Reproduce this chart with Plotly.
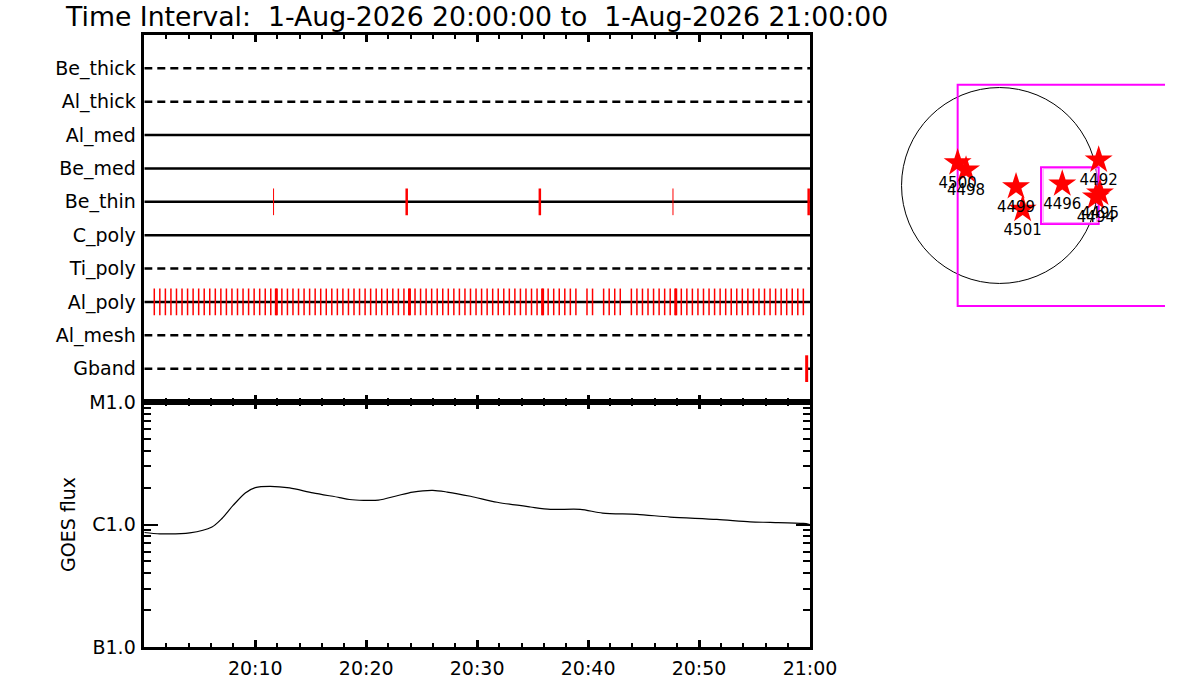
import plotly.graph_objects as go

# ---------------- data ----------------
title_text = "Time Interval:  1-Aug-2026 20:00:00 to  1-Aug-2026 21:00:00"

channels = ["Be_thick", "Al_thick", "Al_med", "Be_med", "Be_thin",
            "C_poly", "Ti_poly", "Al_poly", "Al_mesh", "Gband"]
channel_dashed = [True, True, False, False, False, False, True, False, True, True]

# exposure times (minutes after 20:00)
be_thin_thin = [11.65, 47.65]
be_thin_thick = [23.65, 35.65, 59.88]
al_poly_times = [
    0.9, 1.4, 1.9, 2.4, 2.9, 3.4, 3.9, 4.4, 4.9, 5.4,
    5.9, 6.4, 6.9, 7.4, 7.9, 8.4, 8.9, 9.4, 9.9, 10.4,
    10.9, 11.4, 11.9, 12.4, 12.9, 13.4, 13.9, 14.4, 14.9, 15.4,
    15.9, 16.4, 16.9, 17.4, 17.9, 18.4, 18.9, 19.4, 19.9, 20.4,
    20.9, 21.4, 21.9, 22.4, 22.9, 23.4, 23.9, 24.4, 24.9, 25.4,
    25.9, 26.4, 26.9, 27.4, 27.9, 28.4, 28.9, 29.4, 29.9, 30.4,
    30.9, 31.4, 31.9, 32.4, 32.9, 33.4, 33.9, 34.4, 34.9, 35.4,
    35.9, 36.4, 36.9, 37.4, 37.9, 38.4, 38.9, 39.9, 40.4,
    41.4, 41.9, 42.4, 42.9, 43.9, 44.4, 44.9, 45.4,
    45.9, 46.4, 46.9, 47.4, 47.9, 48.4, 48.9, 49.4, 49.9, 50.4,
    50.9, 51.4, 51.9, 52.4, 52.9, 53.4, 53.9, 54.4, 54.9, 55.4,
    55.9, 56.4, 56.9, 57.4, 57.9, 58.4, 58.9, 59.4]
al_poly_thick = [11.9, 23.9, 35.9, 47.9]
gband_times = [59.7]

time_tickvals = [10, 20, 30, 40, 50, 60]
time_ticktext = ["20:10", "20:20", "20:30", "20:40", "20:50", "21:00"]
time_minor = [2, 4, 6, 8, 12, 14, 16, 18, 22, 24, 26, 28,
              32, 34, 36, 38, 42, 44, 46, 48, 52, 54, 56, 58]

goes_t = [0.0, 1.4, 4.1, 6.1, 7.0, 8.0, 9.1, 10.0, 11.3, 13.1, 15.2, 17.6,
          18.5, 21.1, 22.7, 24.2, 26.0, 27.3, 29.4, 31.8, 34.8, 36.6, 39.3,
          41.3, 44.4, 47.4, 51.6, 54.6, 56.4, 59.4, 60.0]
goes_flux = [8.6e-7, 8.4e-7, 8.55e-7, 9.55e-7, 1.12e-6, 1.43e-6, 1.81e-6,
             2.0e-6, 2.05e-6, 1.99e-6, 1.81e-6, 1.66e-6, 1.60e-6, 1.58e-6,
             1.71e-6, 1.84e-6, 1.90e-6, 1.84e-6, 1.70e-6, 1.52e-6, 1.39e-6,
             1.33e-6, 1.33e-6, 1.24e-6, 1.21e-6, 1.15e-6, 1.10e-6, 1.05e-6,
             1.04e-6, 1.02e-6, 1.0e-6]
goes_tickvals = [1e-7, 1e-6, 1e-5]
goes_ticktext = ["B1.0", "C1.0", "M1.0"]
goes_minor = [2e-7, 3e-7, 4e-7, 5e-7, 6e-7, 7e-7, 8e-7, 9e-7,
              2e-6, 3e-6, 4e-6, 5e-6, 6e-6, 7e-6, 8e-6, 9e-6]

# solar map (arcsec)
sun_radius = 960
ar_numbers = ["4500", "4498", "4499", "4501", "4496", "4492", "4495", "4494"]
ar_x = [-410, -328, 162, 227, 615, 972, 985, 945]
ar_y = [223, 152, -12, -233, 15, 250, -74, -113]
fov_big_x = [-410, 2000]
fov_big_y = [-1181, 988]
fov_small_x = [407, 972]
fov_small_y = [-378, 178]
fov_small_inner_x = [427, 953]
fov_small_inner_y = [-365, 165]

# ---------------- layout helpers ----------------
W, H = 1200, 700
def px_x(p):
    return p / W
def px_y(p):
    return 1 - p / H

FONT = "DejaVu Sans"
fig = go.Figure()

# top panel rows
for i, name in enumerate(channels):
    fig.add_trace(go.Scatter(
        x=[0, 60], y=[i, i], mode="lines", xaxis="x", yaxis="y",
        line=dict(color="black", width=2.5,
                  dash="8px,5px" if channel_dashed[i] else "solid"),
        hoverinfo="skip", showlegend=False))

def tick_trace(times, row, width):
    xs, ys = [], []
    for t in times:
        xs += [t, t, None]
        ys += [row - 0.4, row + 0.4, None]
    return go.Scatter(x=xs, y=ys, mode="lines", xaxis="x", yaxis="y",
                      line=dict(color="red", width=width),
                      hoverinfo="skip", showlegend=False)

row_of = {n: i for i, n in enumerate(channels)}
fig.add_trace(tick_trace(be_thin_thin, row_of["Be_thin"], 1))
fig.add_trace(tick_trace(be_thin_thick, row_of["Be_thin"], 2.5))
fig.add_trace(tick_trace(al_poly_times, row_of["Al_poly"], 1.5))
fig.add_trace(tick_trace(al_poly_thick, row_of["Al_poly"], 3))
fig.add_trace(tick_trace(gband_times, row_of["Gband"], 3))

# GOES panel
fig.add_trace(go.Scatter(
    x=goes_t, y=goes_flux, mode="lines", xaxis="x2", yaxis="y2",
    line=dict(color="black", width=1.2, shape="spline", smoothing=0.8),
    hoverinfo="skip", showlegend=False))

# solar map
fig.add_trace(go.Scatter(
    x=ar_x, y=ar_y, mode="markers+text", xaxis="x3", yaxis="y3",
    text=ar_numbers, textposition="bottom center",
    textfont=dict(family=FONT, size=15, color="black"),
    marker=dict(symbol="star", size=21, color="red", line=dict(width=0)),
    hoverinfo="skip", showlegend=False, cliponaxis=False))

# map axis ranges with equal scale
map_dom_x = (890, 1165)
map_dom_y = (75, 315)
cx_px, cy_px, scale = 999.5, 185.5, 9.8
map_xrange = [(map_dom_x[0] - cx_px) * scale, (map_dom_x[1] - cx_px) * scale]
map_yrange = [-(map_dom_y[1] - cy_px) * scale, -(map_dom_y[0] - cy_px) * scale]

shapes = [
    dict(type="circle", xref="x3", yref="y3", x0=-sun_radius, y0=-sun_radius,
         x1=sun_radius, y1=sun_radius, line=dict(color="black", width=1), layer="below"),
    dict(type="rect", xref="x3", yref="y3", x0=fov_big_x[0], x1=fov_big_x[1],
         y0=fov_big_y[0], y1=fov_big_y[1], line=dict(color="magenta", width=2), layer="below"),
    dict(type="rect", xref="x3", yref="y3", x0=fov_small_x[0], x1=fov_small_x[1],
         y0=fov_small_y[0], y1=fov_small_y[1], line=dict(color="magenta", width=2), layer="below"),
    dict(type="rect", xref="x3", yref="y3", x0=fov_small_inner_x[0], x1=fov_small_inner_x[1],
         y0=fov_small_inner_y[0], y1=fov_small_inner_y[1], line=dict(color="#ff80ff", width=1), layer="below"),
]

xdom = [px_x(144.3), px_x(810)]
axis_common = dict(showgrid=False, zeroline=False, showline=True,
                   linecolor="black", linewidth=2.5, automargin=False)

fig.update_layout(
    template="none",
    width=W, height=H, autosize=False,
    margin=dict(l=0, r=0, t=0, b=0, pad=0),
    paper_bgcolor="white", plot_bgcolor="white",
    font=dict(family=FONT, color="black", size=19),
    showlegend=False,
    shapes=shapes,
    xaxis=dict(domain=xdom, anchor="y", range=[0, 60], showticklabels=False,
               ticks="inside", tickmode="array", tickvals=time_tickvals, ticklen=7, tickwidth=2.5,
               tickcolor="black", mirror="allticks",
               minor=dict(ticks="inside", tickvals=time_minor, ticklen=4, tickwidth=2, tickcolor="black"),
               **axis_common),
    yaxis=dict(domain=[px_y(402), px_y(35)], anchor="x", range=[10, -1],
               tickmode="array", tickvals=list(range(len(channels))), ticktext=channels,
               ticks="", mirror=True, tickfont=dict(size=19), ticklabelstandoff=2,
               **axis_common),
    xaxis2=dict(domain=xdom, anchor="y2", range=[0, 60],
                tickmode="array", tickvals=time_tickvals, ticktext=time_ticktext,
                ticks="inside", ticklen=7, tickwidth=2.5, tickcolor="black",
                mirror="allticks", tickfont=dict(size=19), ticklabelstandoff=2,
                minor=dict(ticks="inside", tickvals=time_minor,
                           ticklen=4, tickwidth=2, tickcolor="black"),
                **axis_common),
    yaxis2=dict(domain=[px_y(647), px_y(402)], anchor="x2", type="log", range=[-7, -5],
                tickmode="array", tickvals=goes_tickvals, ticktext=goes_ticktext,
                ticks="inside", ticklen=14, tickwidth=1.5, tickcolor="black",
                mirror="allticks", tickfont=dict(size=19), ticklabelstandoff=2,
                minor=dict(ticks="inside", tickvals=goes_minor, ticklen=7,
                           tickwidth=1.5, tickcolor="black"),
                title=dict(text="GOES flux", font=dict(size=19), standoff=9),
                **axis_common),
    xaxis3=dict(domain=[px_x(map_dom_x[0]), px_x(map_dom_x[1])], anchor="y3",
                range=map_xrange, visible=False),
    yaxis3=dict(domain=[px_y(map_dom_y[1]), px_y(map_dom_y[0])], anchor="x3",
                range=map_yrange, visible=False),
    annotations=[dict(text=title_text, xref="paper", yref="paper",
                      x=px_x(63), y=px_y(17), xanchor="left", yanchor="middle",
                      showarrow=False, font=dict(size=26.7, family=FONT, color="black"))],
)

fig.write_html("out.html", config={"displayModeBar": False},
               post_script="document.body.style.margin='0';")
